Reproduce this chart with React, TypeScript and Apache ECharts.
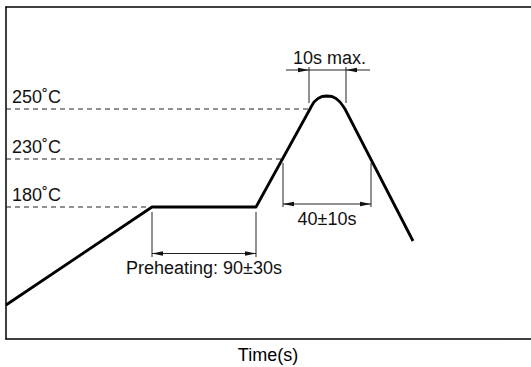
import React, { useEffect, useRef } from "react";
import * as echarts from "echarts";

// Temperature levels (labels and their positions on the schematic vertical scale)
const levelLabels = ["250˚C", "230˚C", "180˚C"];
const levelValues = [230, 180, 132];

// Reflow profile (schematic time units, schematic temperature units)
const profileTime = [0, 146, 250, 304, 305, 308, 312, 316, 321, 326, 330, 334, 337, 339, 407];
const profileTemp = [34, 132, 132, 230, 232, 237, 240.5, 242.5, 243, 242.5, 240.5, 237, 233, 230, 98];

// Dimension annotations
const dimLabels = ["10s max.", "40±10s", "Preheating: 90±30s"];
const dimStart = [303, 277, 146];
const dimEnd = [340, 365, 250];
const dimLevel = [269, 135, 85.5];
const extFrom = [236, 176, 127];
const extTo = [272, 132, 82];
const dimInward = [true, false, false];

const axisTitle = "Time(s)";

const FONT = "'Liberation Sans', Arial, Helvetica, sans-serif";

function crossTime(level: number): number {
  for (let i = 0; i < profileTime.length - 1; i++) {
    const y0 = profileTemp[i];
    const y1 = profileTemp[i + 1];
    if ((level - y0) * (level - y1) <= 0 && y0 !== y1) {
      return profileTime[i] + ((level - y0) / (y1 - y0)) * (profileTime[i + 1] - profileTime[i]);
    }
  }
  return 0;
}

export default function App() {
  const ref = useRef<HTMLDivElement>(null);

  useEffect(() => {
    if (!ref.current) return;
    const chart = echarts.init(ref.current, undefined, { renderer: "svg" });

    const frameLine = { show: true, onZero: false, lineStyle: { color: "#000", width: 1.5 } };
    const hidden = {
      axisTick: { show: false },
      axisLabel: { show: false },
      splitLine: { show: false },
    };

    const option: any = {
      animation: false,
      grid: { left: 6, top: 7, width: 540, height: 332 },
      graphic: [
        {
          type: "text",
          x: 268,
          y: 355,
          silent: true,
          style: {
            text: axisTitle,
            fill: "#000",
            fontSize: 18,
            fontFamily: FONT,
            align: "center",
            verticalAlign: "middle",
          },
        },
      ],
      xAxis: [
        {
          type: "value",
          min: 0,
          max: 540,
          position: "bottom",
          axisLine: frameLine,
          ...hidden,
        },
        {
          type: "value",
          min: 0,
          max: 540,
          position: "top",
          axisLine: frameLine,
          ...hidden,
        },
      ],
      yAxis: {
        type: "value",
        min: 0,
        max: 332,
        axisLine: frameLine,
        ...hidden,
      },
      series: [
        {
          type: "custom",
          coordinateSystem: "cartesian2d",
          silent: true,
          z: 1,
          data: levelValues.map((v, i) => [crossTime(v), v, i]),
          renderItem: (params: any, api: any) => {
            const cx = api.value(0);
            const v = api.value(1);
            const i = api.value(2);
            const p0 = api.coord([0, v]);
            const p1 = api.coord([cx, v]);
            return {
              type: "group",
              children: [
                {
                  type: "line",
                  shape: { x1: p0[0], y1: p0[1], x2: p1[0], y2: p1[1] },
                  style: { stroke: "#222", lineWidth: 1, lineDash: [5, 4] },
                },
                {
                  type: "text",
                  style: {
                    text: levelLabels[i],
                    x: p0[0] + 6,
                    y: p0[1] - 12,
                    fill: "#111",
                    fontSize: 18,
                    fontFamily: FONT,
                    align: "left",
                    verticalAlign: "middle",
                  },
                },
              ],
            };
          },
        },
        {
          type: "line",
          data: profileTime.map((t, i) => [t, profileTemp[i]]),
          symbol: "none",
          smooth: false,
          z: 3,
          lineStyle: { color: "#000", width: 2.8, join: "round" },
        },
        {
          type: "custom",
          coordinateSystem: "cartesian2d",
          silent: true,
          z: 2,
          data: dimStart.map((s, i) => [s, dimEnd[i], dimLevel[i], extFrom[i], extTo[i], i]),
          renderItem: (params: any, api: any) => {
            const s = api.value(0);
            const e = api.value(1);
            const lv = api.value(2);
            const ef = api.value(3);
            const et = api.value(4);
            const i = api.value(5);
            const ps = api.coord([s, lv]);
            const pe = api.coord([e, lv]);
            const a1 = api.coord([s, ef]);
            const b1 = api.coord([s, et]);
            const a2 = api.coord([e, ef]);
            const b2 = api.coord([e, et]);
            const y = ps[1];
            const L = 11;
            const h = 2.2;
            const inward = dimInward[i];
            const stroke = { stroke: "#222", lineWidth: 1 };
            const children: any[] = [
              { type: "line", shape: { x1: a1[0], y1: a1[1], x2: b1[0], y2: b1[1] }, style: stroke },
              { type: "line", shape: { x1: a2[0], y1: a2[1], x2: b2[0], y2: b2[1] }, style: stroke },
            ];
            if (inward) {
              children.push({
                type: "line",
                shape: { x1: ps[0] - 23, y1: y, x2: pe[0] + 24, y2: y },
                style: stroke,
              });
              children.push({
                type: "polygon",
                shape: { points: [[ps[0], y], [ps[0] - L, y - h], [ps[0] - L, y + h]] },
                style: { fill: "#111" },
              });
              children.push({
                type: "polygon",
                shape: { points: [[pe[0], y], [pe[0] + L, y - h], [pe[0] + L, y + h]] },
                style: { fill: "#111" },
              });
            } else {
              children.push({
                type: "line",
                shape: { x1: ps[0], y1: y, x2: pe[0], y2: y },
                style: stroke,
              });
              children.push({
                type: "polygon",
                shape: { points: [[ps[0], y], [ps[0] + L, y - h], [ps[0] + L, y + h]] },
                style: { fill: "#111" },
              });
              children.push({
                type: "polygon",
                shape: { points: [[pe[0], y], [pe[0] - L, y - h], [pe[0] - L, y + h]] },
                style: { fill: "#111" },
              });
            }
            children.push({
              type: "text",
              style: {
                text: dimLabels[i],
                x: (ps[0] + pe[0]) / 2 + (inward ? 2 : 0),
                y: inward ? y - 12 : y + 14.5,
                fill: "#111",
                fontSize: 18,
                fontFamily: FONT,
                align: "center",
                verticalAlign: "middle",
              },
            });
            return { type: "group", children };
          },
        },
      ],
    };

    chart.setOption(option);
    return () => chart.dispose();
  }, []);

  return (
    <div
      ref={ref}
      style={{ position: "fixed", left: 0, top: 0, width: 560, height: 367, background: "#fff" }}
    />
  );
}
